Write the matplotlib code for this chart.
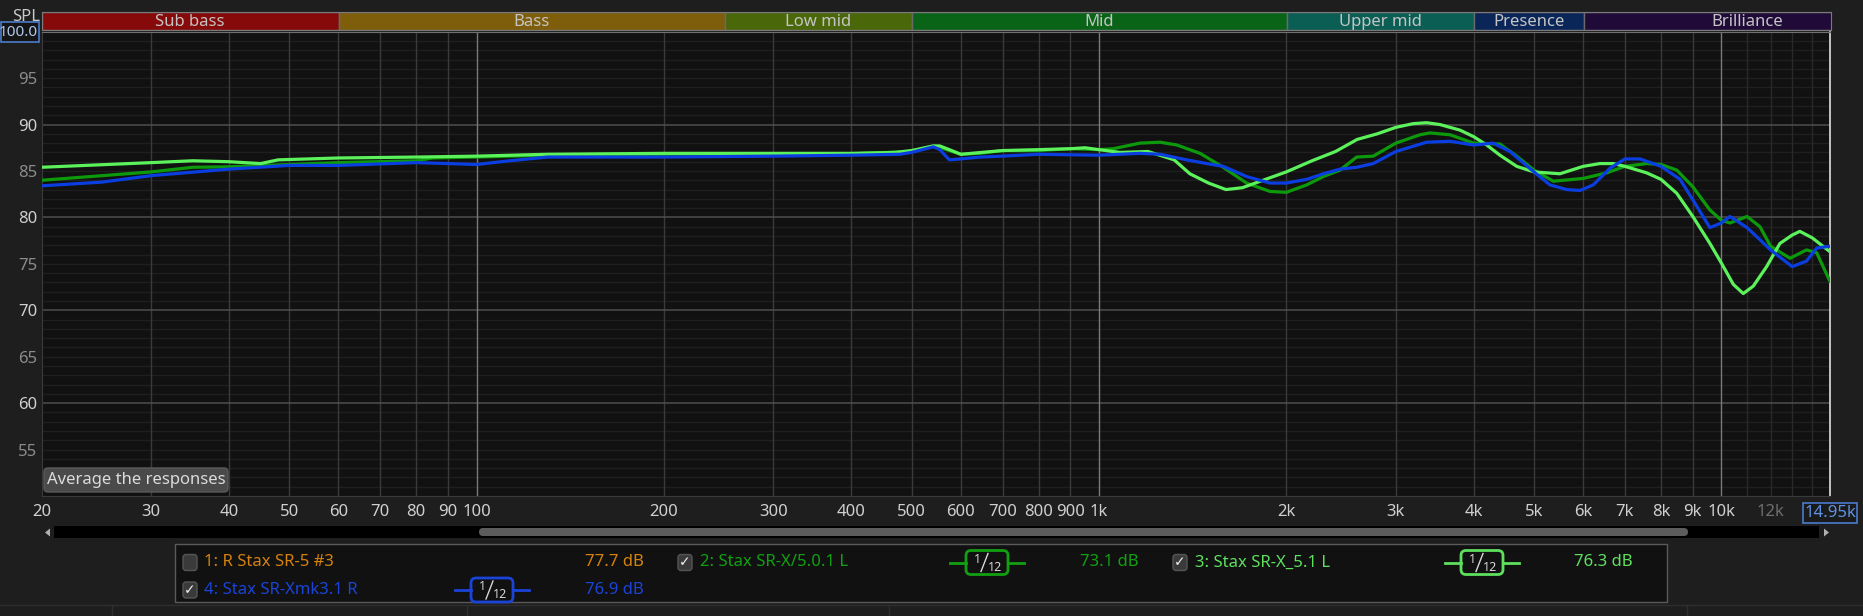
import matplotlib
matplotlib.use('Agg')
import matplotlib.pyplot as plt
from matplotlib.patches import Rectangle, FancyBboxPatch, Polygon
from matplotlib.lines import Line2D
import numpy as np

plt.rcParams['font.family'] = ['Noto Sans', 'DejaVu Sans']

# ---------------- data ----------------
f_s2 = [20, 30, 35, 40, 50, 60, 80, 85, 100, 130, 200, 300, 400, 500, 542, 569, 600, 644, 700, 800,
        900, 1000, 1055, 1164, 1254, 1334, 1454, 1584, 1727, 1883, 2000, 2157, 2294, 2440, 2595, 2759,
        3000, 3280, 3404, 3666, 4000, 4409, 4691, 5000, 5371, 5785, 6000, 6543, 7000, 7587, 8000, 8480,
        9000, 9587, 10000, 10325, 11000, 11537, 12000, 12895, 13707, 14230, 14950]
db_s2 = [84.0, 84.9, 85.4, 85.45, 85.7, 85.9, 86.1, 86.4, 86.5, 86.7, 86.8, 86.85, 86.85, 87.1, 87.7, 87.3, 86.8, 86.9, 87.2, 87.2,
         87.4, 87.3, 87.4, 88.0, 88.1, 87.8, 86.9, 85.4, 83.7, 82.8, 82.7, 83.5, 84.4, 85.1, 86.5, 86.6,
         88.0, 88.9, 89.1, 88.9, 88.0, 87.9, 86.6, 85.1, 83.9, 84.1, 84.2, 84.8, 85.5, 85.8, 85.7, 85.1,
         83.3, 80.8, 79.7, 79.4, 80.1, 79.0, 76.9, 75.6, 76.5, 76.2, 73.1]

f_s3 = [20, 30, 35, 40, 45, 48, 60, 80, 100, 130, 200, 300, 400, 470, 500, 542, 555, 575, 600, 700,
        800, 900, 950, 1000, 1081, 1199, 1321, 1400, 1500, 1600, 1700, 1800, 2000, 2200, 2400, 2600,
        2800, 3000, 3200, 3362, 3532, 3803, 4000, 4198, 4409, 4691, 5000, 5505, 6000, 6383, 6706, 7000,
        7587, 8000, 8480, 9000, 9587, 10000, 10452, 10846, 11255, 11825, 12423, 13000, 13371, 14000, 14950]
db_s3 = [85.4, 85.9, 86.1, 86.0, 85.8, 86.2, 86.4, 86.5, 86.6, 86.8, 86.9, 86.9, 86.9, 87.0, 87.2, 87.7, 87.7, 87.3, 86.8, 87.2,
         87.3, 87.4, 87.5, 87.3, 87.0, 87.1, 86.2, 84.7, 83.7, 83.0, 83.2, 83.8, 84.9, 86.1, 87.1, 88.4,
         89.0, 89.7, 90.1, 90.2, 90.0, 89.4, 88.7, 87.8, 86.7, 85.5, 84.9, 84.7, 85.5, 85.8, 85.8, 85.5,
         84.8, 84.1, 82.6, 80.1, 77.2, 75.1, 72.8, 71.8, 72.6, 74.7, 77.2, 78.1, 78.5, 77.8, 76.3]

f_s4 = [20, 25, 30, 40, 50, 60, 80, 90, 100, 113, 130, 200, 300, 400, 479, 500, 542, 555, 575, 600,
        644, 700, 800, 1000, 1164, 1254, 1384, 1490, 1584, 1727, 1883, 2000, 2157, 2294, 2440, 2595,
        2759, 3000, 3362, 3666, 4000, 4302, 4576, 5000, 5306, 5644, 5928, 6226, 6625, 7000, 7402, 8000,
        8585, 9000, 9587, 10000, 10325, 11000, 11537, 12000, 13000, 13707, 14230, 14950]
db_s4 = [83.4, 83.8, 84.5, 85.2, 85.6, 85.6, 85.9, 85.8, 85.7, 86.1, 86.5, 86.5, 86.6, 86.7, 86.8, 87.0, 87.6, 87.3, 86.2, 86.3,
         86.5, 86.6, 86.8, 86.7, 86.9, 86.8, 86.2, 85.8, 85.5, 84.4, 83.7, 83.7, 84.1, 84.7, 85.2, 85.4,
         85.8, 87.1, 88.1, 88.2, 87.8, 88.0, 87.1, 84.9, 83.5, 83.0, 82.9, 83.5, 85.3, 86.3, 86.3, 85.5,
         84.1, 81.9, 78.9, 79.4, 80.1, 78.9, 77.6, 76.5, 74.7, 75.3, 76.7, 76.9]

band_names = ['Sub bass', 'Bass', 'Low mid', 'Mid', 'Upper mid', 'Presence', 'Brilliance']
band_lo = [20, 60, 250, 500, 2000, 4000, 6000]
band_hi = [60, 250, 500, 2000, 4000, 6000, 20000]
band_colors = ['#860a0a', '#7e5e0a', '#4a680a', '#0a6418', '#0a5e54', '#0a2658', '#200a38']

xtick_vals = [20, 30, 40, 50, 60, 70, 80, 90, 100, 200, 300, 400, 500, 600, 700, 800, 900,
              1000, 2000, 3000, 4000, 5000, 6000, 7000, 8000, 9000, 10000, 12000]
xtick_labels = ['20', '30', '40', '50', '60', '70', '80', '90', '100', '200', '300', '400', '500',
                '600', '700', '800', '900', '1k', '2k', '3k', '4k', '5k', '6k', '7k', '8k', '9k',
                '10k', '12k']
ytick_vals = [55, 60, 65, 70, 75, 80, 85, 90, 95]
ytick_labels = ['55', '60', '65', '70', '75', '80', '85', '90', '95']

legend_names = ['1: R Stax SR-5 #3', '2: Stax SR-X/5.0.1 L', '3: Stax SR-X_5.1 L', '4: Stax SR-Xmk3.1 R']
legend_values = ['77.7 dB', '73.1 dB', '76.3 dB', '76.9 dB']
legend_checked = [False, True, True, True]
legend_colors = ['#d4820a', '#11a011', '#5ee05e', '#1a44d8']

f_min, f_max = 20, 14950
y_min, y_max = 50, 100

# ---------------- figure ----------------
W, H = 1863, 616
fig = plt.figure(figsize=(W / 100, H / 100), dpi=100, facecolor='#1e1e1e')
T = fig.dpi_scale_trans


def X(px):
    return px / 100


def Y(py):
    return (H - py) / 100


L, R, TOP, BOT = 41.5, 1830, 31.7, 496
ax = fig.add_axes([L / W, 1 - BOT / H, (R - L) / W, (BOT - TOP) / H])
ax.set_facecolor('#111111')
ax.set_xscale('log')
ax.set_xlim(f_min, f_max)
ax.set_ylim(y_min, y_max)

# horizontal grid
for d in range(y_min + 1, y_max):
    if d % 10 == 0:
        ax.axhline(d, color='#4e4e4e', lw=1.1, zorder=1)
    else:
        ax.axhline(d, color='#1f1f1f', lw=1.0, zorder=0.5)
# vertical grid
for f in xtick_vals[1:]:
    if f in (100, 1000, 10000):
        ax.axvline(f, color='#7a7a7a', lw=1.0, zorder=1)
    elif f == 12000:
        ax.axvline(f, color='#2a2a2a', lw=1.0, zorder=0.8)
    else:
        ax.axvline(f, color='#3a3a3a', lw=1.0, zorder=0.8)
for f in (11000, 13000, 14000):
    ax.axvline(f, color='#2a2a2a', lw=1.0, zorder=0.8)

ax.plot(f_s2, db_s2, color='#0c9a0c', lw=2.3, zorder=3, solid_joinstyle='round', solid_capstyle='round')
ax.plot(f_s3, db_s3, color='#5cf25c', lw=2.3, zorder=4, solid_joinstyle='round', solid_capstyle='round')
ax.plot(f_s4, db_s4, color='#0a3ee0', lw=2.3, zorder=5, solid_joinstyle='round', solid_capstyle='round')

ax.set_xticks(xtick_vals)
ax.set_xticklabels(xtick_labels)
ax.xaxis.set_minor_locator(matplotlib.ticker.NullLocator())
ax.set_yticks(ytick_vals)
ax.set_yticklabels(ytick_labels)
ax.tick_params(axis='x', length=0, pad=6, labelsize=12, colors='#d0d0d0')
ax.tick_params(axis='y', length=0, pad=3, labelsize=12, colors='#8c8c8c')
for lab in ax.get_xticklabels():
    if lab.get_text() == '12k':
        lab.set_color('#6e6e6e')
for lab in ax.get_yticklabels():
    if int(lab.get_text()) % 10 == 0:
        lab.set_color('#d0d0d0')
for s in ('left', 'bottom'):
    ax.spines[s].set_color('#3a3a3a')
ax.spines['top'].set_color('#707070')
ax.spines['right'].set_color('#e0e0e0')
ax.spines['right'].set_linewidth(1.2)

# ---------------- band bar ----------------
bx = fig.add_axes([L / W, 1 - 29.5 / H, (R + 1 - L) / W, 17.5 / H])
bx.set_xscale('log')
bx.set_xlim(f_min, f_max)
bx.set_ylim(0, 1)
for name, lo, hi, c in zip(band_names, band_lo, band_hi, band_colors):
    bx.axvspan(lo, hi, color=c, ec='#6a6a6a', lw=1)
    bx.text(np.sqrt(lo * hi), 0.45, name, ha='center', va='center', color='#c4c4c4', fontsize=12)
bx.set_xticks([])
bx.set_yticks([])
bx.xaxis.set_minor_locator(matplotlib.ticker.NullLocator())
for s in bx.spines.values():
    s.set_color('#7a7a7a')

fig.text(X(40), Y(17), 'SPL', ha='right', va='center', color='#c8c8c8', fontsize=12, transform=T, zorder=-1)

# 100.0 box
fig.add_artist(Rectangle((X(0.5), Y(42.3)), X(38.5), 0.206, transform=T, fc='#151515', ec='#4a7ccc', lw=1.2))
fig.text(X(37.5), Y(32), '100.0', ha='right', va='center', color='#b0c8ee', fontsize=11, transform=T)

# 14.95k box
fig.add_artist(Rectangle((X(1803), Y(523)), X(54), 0.20, transform=T, fc='#1a1a1a', ec='#4a7ccc', lw=1.2))
fig.text(X(1830), Y(513), '14.95k', ha='center', va='center', color='#5f92e6', fontsize=12, transform=T)

# Average button
fig.add_artist(FancyBboxPatch((X(44), Y(492)), X(184), 0.24, boxstyle='round,pad=0,rounding_size=0.04',
                              transform=T, fc='#4a4a4a', ec='#5a5a5a', lw=1))
fig.text(X(136), Y(480), 'Average the responses', ha='center', va='center', color='#dcdcdc',
         fontsize=12, transform=T)

# scrollbar
fig.add_artist(Rectangle((X(54), Y(538)), X(1765), 0.12, transform=T, fc='#000000', ec='none'))
fig.add_artist(FancyBboxPatch((X(479), Y(536)), X(1209), 0.08, boxstyle='round,pad=0,rounding_size=0.04',
                              transform=T, fc='#5c5c5c', ec='none'))
fig.add_artist(Polygon([(X(45), Y(532.5)), (X(50), Y(528.5)), (X(50), Y(536.5))], closed=True,
                       transform=T, fc='#b0b0b0', ec='none'))
fig.add_artist(Polygon([(X(1829), Y(532.5)), (X(1824), Y(528.5)), (X(1824), Y(536.5))], closed=True,
                       transform=T, fc='#b0b0b0', ec='none'))

# bottom strip
fig.add_artist(Line2D([0, X(W)], [Y(605), Y(605)], transform=T, color='#2e2e2e', lw=1))
for sx in (112, 467, 889, 1687):
    fig.add_artist(Line2D([X(sx), X(sx)], [Y(605), Y(616)], transform=T, color='#2e2e2e', lw=1))

# ---------------- legend panel ----------------
fig.add_artist(Rectangle((X(175), Y(602)), X(1492), 0.58, transform=T, fc='#111111', ec='#5a5a5a', lw=1))
cb_x = [190, 685, 1180, 190]
tx_x = [204, 700, 1195, 204]
icon_x = [None, 987, 1482, 492]
val_x = [644, 1139, 1633, 644]
row_y = [562.5, 562.5, 562.5, 590]

for i in range(len(legend_names)):
    cy = row_y[i]
    c = legend_colors[i]
    fig.add_artist(FancyBboxPatch((X(cb_x[i] - 7), Y(cy + 8)), X(14), X(16),
                                  boxstyle='round,pad=0,rounding_size=0.03', transform=T,
                                  fc='#3a3a3a', ec='#555555', lw=1))
    if legend_checked[i]:
        fig.text(X(cb_x[i]), Y(cy), '\u2713', ha='center', va='center', color='#f0f0f0',
                 fontsize=10, transform=T, family=['DejaVu Sans'])
    fig.text(X(tx_x[i]), Y(cy), legend_names[i], ha='left', va='center', color=c, fontsize=12, transform=T)
    fig.text(X(val_x[i]), Y(cy), legend_values[i], ha='right', va='center', color=c, fontsize=12, transform=T)
    if icon_x[i] is not None:
        cx = icon_x[i]
        fig.add_artist(Line2D([X(cx - 37), X(cx - 21)], [Y(cy), Y(cy)], transform=T, color=c, lw=2))
        fig.add_artist(Line2D([X(cx + 21), X(cx + 37)], [Y(cy), Y(cy)], transform=T, color=c, lw=2))
        fig.add_artist(FancyBboxPatch((X(cx - 21), Y(cy + 12)), X(42), X(24),
                                      boxstyle='round,pad=0,rounding_size=0.05', transform=T,
                                      fc='#111111', ec=c, lw=2))
        fig.text(X(cx - 10), Y(cy - 3), '1', ha='center', va='center', color='#d8d8d8', fontsize=9, transform=T)
        fig.add_artist(Line2D([X(cx - 6), X(cx + 1)], [Y(cy + 9), Y(cy - 9)], transform=T, color='#d8d8d8', lw=1))
        fig.text(X(cx + 8), Y(cy + 5), '12', ha='center', va='center', color='#d8d8d8', fontsize=9, transform=T)

fig.savefig('out.png', dpi=100, facecolor=fig.get_facecolor())
